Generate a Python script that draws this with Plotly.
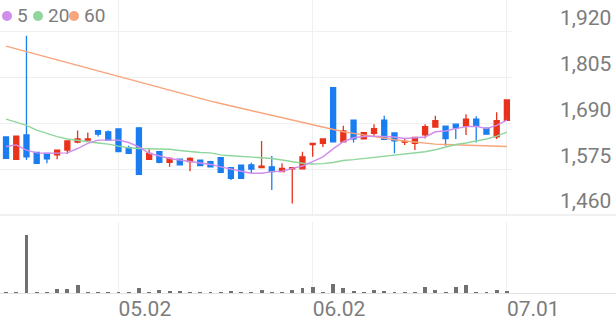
import plotly.graph_objects as go

# ---------------- data ----------------
x_idx = list(range(50))
tick_pos = [11, 30, 49]
tick_text = ["05.02", "06.02", "07.01"]

opens = [1656, 1600, 1661, 1617, 1615, 1611, 1623, 1643, 1648, 1672,
         1669, 1676, 1629, 1679, 1600, 1619, 1592, 1600, 1594, 1598,
         1594, 1604, 1579, 1585, 1586, 1579, 1581, 1569, 1576, 1576,
         1637, 1640, 1780, 1644, 1698, 1651, 1665, 1698, 1666, 1643,
         1640, 1661, 1681, 1683, 1688, 1683, 1701, 1678, 1656, 1698]
highs = [1657, 1659, 1910, 1618, 1616, 1624, 1647, 1672, 1667, 1673,
         1672, 1677, 1634, 1680, 1625, 1620, 1605, 1601, 1605, 1599,
         1596, 1605, 1580, 1586, 1591, 1646, 1608, 1590, 1580, 1619,
         1641, 1652, 1781, 1684, 1699, 1668, 1688, 1709, 1667, 1651,
         1656, 1688, 1709, 1684, 1689, 1713, 1708, 1679, 1718, 1750]
lows = [1601, 1599, 1598, 1589, 1590, 1600, 1613, 1640, 1648, 1657,
        1647, 1618, 1614, 1561, 1598, 1590, 1581, 1585, 1570, 1583,
        1579, 1566, 1548, 1551, 1565, 1579, 1523, 1568, 1489, 1575,
        1606, 1631, 1643, 1643, 1642, 1650, 1659, 1649, 1615, 1636,
        1623, 1652, 1680, 1634, 1651, 1661, 1642, 1662, 1651, 1697]
closes = [1602, 1658, 1606, 1590, 1601, 1623, 1646, 1651, 1651, 1663,
          1648, 1619, 1615, 1562, 1615, 1592, 1602, 1586, 1602, 1584,
          1581, 1567, 1552, 1552, 1575, 1583, 1569, 1577, 1579, 1606,
          1640, 1651, 1644, 1671, 1651, 1667, 1677, 1650, 1646, 1645,
          1655, 1682, 1697, 1652, 1679, 1701, 1683, 1663, 1697, 1749]

ma5 = [1632, 1636, 1623, 1616, 1615, 1616, 1616, 1627, 1640, 1648,
       1648, 1648, 1642, 1631, 1615, 1609, 1602, 1598, 1594, 1591,
       1587, 1581, 1575, 1570, 1565, 1565, 1569, 1570, 1577, 1583,
       1594, 1606, 1626, 1644, 1654, 1657, 1658, 1657, 1656, 1652,
       1654, 1656, 1669, 1671, 1677, 1682, 1683, 1677, 1685, 1698]
ma20 = [1701, 1693, 1685, 1673, 1665, 1657, 1651, 1647, 1644, 1641,
        1638, 1633, 1629, 1627, 1626, 1626, 1625, 1622, 1619, 1617,
        1616, 1611, 1609, 1607, 1606, 1604, 1602, 1598, 1594, 1590,
        1588, 1589, 1592, 1597, 1599, 1602, 1605, 1608, 1611, 1613,
        1616, 1619, 1624, 1631, 1637, 1641, 1646, 1651, 1658, 1668]
ma60 = [1884, 1877, 1870, 1863, 1856, 1849, 1842, 1835, 1828, 1821,
        1814, 1807, 1800, 1793, 1786, 1779, 1772, 1765, 1759, 1752,
        1746, 1740, 1734, 1728, 1722, 1716, 1710, 1704, 1698, 1692,
        1686, 1680, 1675, 1669, 1665, 1661, 1656, 1652, 1649, 1646,
        1643, 1640, 1638, 1637, 1636, 1635, 1634, 1633, 1632, 1632]

volumes = [35, 35, 2000, 69, 52, 149, 149, 288, 69, 52,
           21, 21, 52, 184, 52, 104, 80, 94, 21, 21,
           21, 21, 80, 52, 52, 115, 52, 21, 128, 198,
           208, 69, 323, 174, 94, 59, 104, 94, 45, 24,
           59, 208, 128, 69, 208, 288, 69, 35, 104, 80]

price_ticks = [1460, 1575, 1690, 1805, 1920]
price_tick_text = ["1,460", "1,575", "1,690", "1,805", "1,920"]
legend_labels = ["5", "20", "60"]

# ---------------- style ----------------
W, H = 616, 321
RED = "#e8321c"
BLUE = "#1a7df0"
C5, C20, C60 = "#cf8ded", "#8fd69c", "#f8a47c"
GRAY = "#7c7c7c"
FONT = "Roboto"

def py(pix):
    return 1 - pix / H

def px(pix):
    return pix / W

fig = go.Figure()

fig.add_trace(go.Bar(x=x_idx, y=volumes, marker_color="#707070", width=0.38,
                     marker_line_width=0,
                     xaxis="x", yaxis="y2", showlegend=False))

for vals, col in [(ma60, C60), (ma20, C20), (ma5, C5)]:
    fig.add_trace(go.Scatter(x=x_idx, y=vals, mode="lines",
                             line=dict(color=col, width=1.4),
                             xaxis="x", yaxis="y", showlegend=False))

fig.add_trace(go.Candlestick(
    x=x_idx, open=opens, high=highs, low=lows, close=closes,
    increasing=dict(line=dict(color=RED, width=1.3), fillcolor=RED),
    decreasing=dict(line=dict(color=BLUE, width=1.3), fillcolor=BLUE),
    whiskerwidth=0, xaxis="x", yaxis="y", showlegend=False))

shapes = [
    dict(type="line", xref="paper", yref="paper", x0=0, x1=1,
         y0=py(215), y1=py(215), line=dict(color="#e2e2e2", width=1)),
    dict(type="line", xref="paper", yref="paper", x0=0, x1=1,
         y0=py(293.5), y1=py(293.5), line=dict(color="#e2e2e2", width=1)),
]
annotations = []
legend_x = [7, 38, 74]
for cx, col, lab in zip(legend_x, [C5, C20, C60], legend_labels):
    shapes.append(dict(type="circle", xref="paper", yref="paper",
                       x0=px(cx - 5), x1=px(cx + 5), y0=py(21), y1=py(11),
                       fillcolor=col, line=dict(width=0)))
    annotations.append(dict(xref="paper", yref="paper", x=px(cx + 8), y=py(15.5),
                            text=lab, showarrow=False, xanchor="left",
                            yanchor="middle",
                            font=dict(family=FONT, size=19, color=GRAY)))

fig.update_layout(
    template="none",
    width=W, height=H,
    margin=dict(l=0, r=0, t=0, b=0, pad=0, autoexpand=False),
    paper_bgcolor="white", plot_bgcolor="white",
    showlegend=False,
    bargap=0,
    xaxis=dict(domain=[0, px(512)], range=[-0.59, 49.5], anchor="y2",
               automargin=False,
               tickvals=tick_pos, ticktext=tick_text,
               showgrid=True, gridcolor="#f0f0f0", gridwidth=1,
               zeroline=False, showline=False, ticks="",
               ticklabelposition="outside right",
               rangeslider=dict(visible=False),
               tickfont=dict(family=FONT, size=21, color=GRAY)),
    yaxis=dict(domain=[py(215), 1], range=[1460, 2000], side="right",
               anchor="x", automargin=False,
               tickvals=price_ticks, ticktext=price_tick_text,
               showgrid=True, gridcolor="#f0f0f0", gridwidth=1,
               zeroline=False, showline=False, ticks="",
               ticklabelshift=-14, ticklabelstandoff=47,
               tickfont=dict(family=FONT, size=21, color=GRAY)),
    yaxis2=dict(domain=[py(293.5), py(222)], range=[0, 2465],
                anchor="x", automargin=False, showgrid=False, zeroline=False,
                showticklabels=False, ticks=""),
    shapes=shapes,
    annotations=annotations,
)

fig.write_html("out.html")
